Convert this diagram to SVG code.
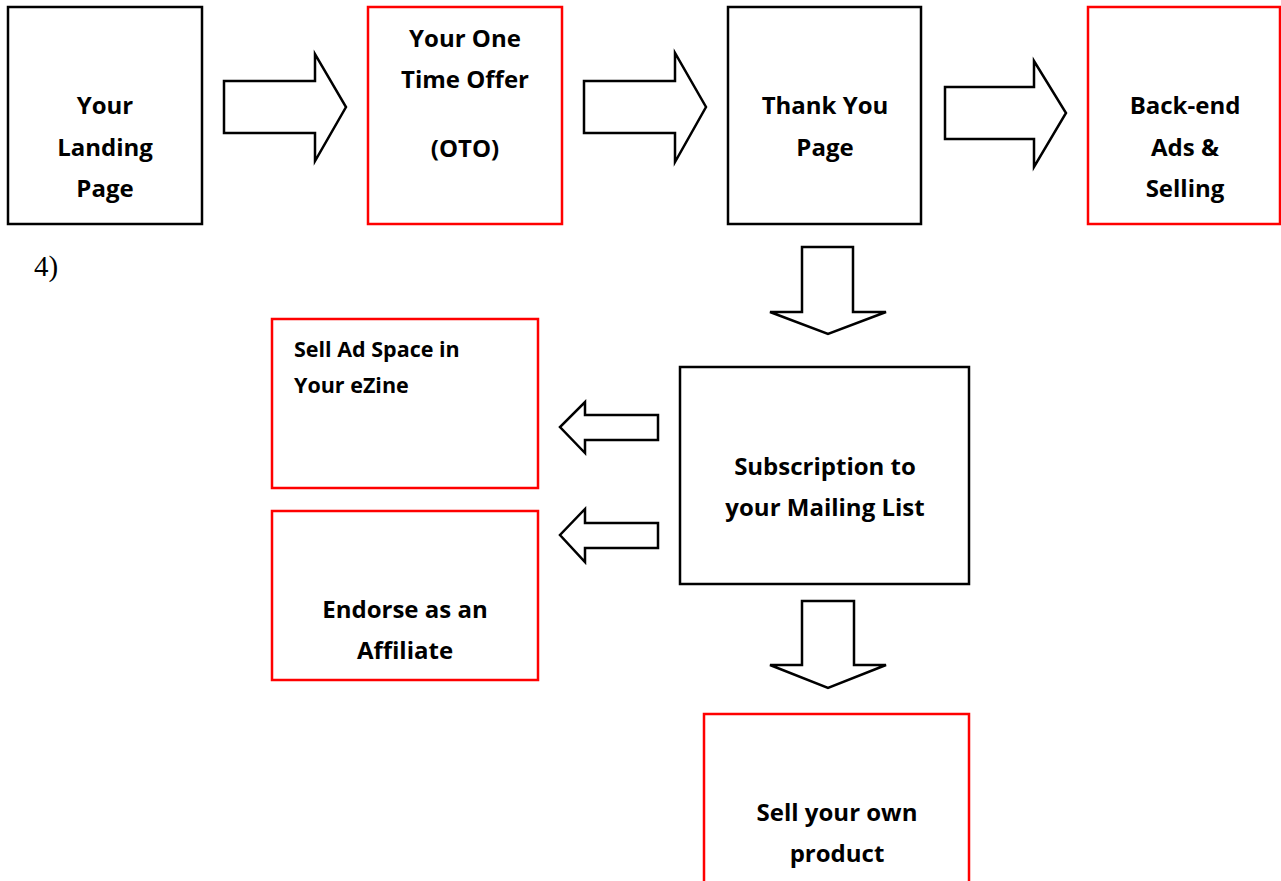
<svg xmlns="http://www.w3.org/2000/svg" width="1281" height="881" viewBox="0 0 1281 881">
<style>
.box{fill:#fff;stroke:#000;stroke-width:2.5}
.red{fill:#fff;stroke:#ff0000;stroke-width:2.5}
.arr{fill:#fff;stroke:#000;stroke-width:2.5;stroke-linejoin:miter}
.t{font-family:"Open Sans","Liberation Sans",sans-serif;font-weight:bold;font-size:24px;fill:#000;text-anchor:middle}
.s{font-size:21.5px;text-anchor:start}
.n{font-family:"Liberation Serif","DejaVu Serif",serif;font-size:29px;fill:#000}
</style>
<rect width="1281" height="881" fill="#fff"/>
<g id="connectors">
<polygon class="arr" points="224,81 315,81 315,54 346,107 315,161 315,133 224,133"/>
<polygon class="arr" points="584,81 675,81 675,53 706,107 675,162 675,133 584,133"/>
<polygon class="arr" points="945,87 1034,87 1034,61 1066,113 1034,167 1034,139 945,139"/>
<polygon class="arr" points="802,247 853,247 853,312 886,312 828,334 770,312 802,312"/>
<polygon class="arr" points="658,415 585,415 585,402 560,427 585,453 585,440 658,440"/>
<polygon class="arr" points="658,523 585,523 585,509 560,535 585,562 585,548 658,548"/>
<polygon class="arr" points="802,601 854,601 854,665 886,665 828,688 770,665 802,665"/>
</g>
<g id="landing">
<rect class="box" x="8" y="7" width="194" height="217"/>
<text class="t" x="105" y="114">Your</text>
<text class="t" x="105" y="156">Landing</text>
<text class="t" x="105" y="197">Page</text>
</g>
<g id="oto">
<rect class="red" x="368" y="7" width="194" height="217"/>
<text class="t" x="465" y="47">Your One</text>
<text class="t" x="465" y="88">Time Offer</text>
<text class="t" x="465" y="157">(OTO)</text>
</g>
<g id="thankyou">
<rect class="box" x="728" y="7" width="193" height="217"/>
<text class="t" x="825" y="114">Thank You</text>
<text class="t" x="825" y="156">Page</text>
</g>
<g id="backend">
<rect class="red" x="1088" y="7" width="192" height="217"/>
<text class="t" x="1185" y="114">Back-end</text>
<text class="t" x="1185" y="156">Ads &amp;</text>
<text class="t" x="1185" y="197">Selling</text>
</g>
<text class="n" x="34" y="276">4)</text>
<g id="subscription">
<rect class="box" x="680" y="367" width="289" height="217"/>
<text class="t" x="825" y="475">Subscription to</text>
<text class="t" x="825" y="516">your Mailing List</text>
</g>
<g id="adspace">
<rect class="red" x="272" y="319" width="266" height="169"/>
<text class="t s" x="294" y="357">Sell Ad Space in</text>
<text class="t s" x="294" y="393">Your eZine</text>
</g>
<g id="affiliate">
<rect class="red" x="272" y="511" width="266" height="169"/>
<text class="t" x="405" y="618">Endorse as an</text>
<text class="t" x="405" y="659">Affiliate</text>
</g>
<g id="ownproduct">
<rect class="red" x="704" y="714" width="265" height="190"/>
<text class="t" x="837" y="821">Sell your own</text>
<text class="t" x="837" y="862">product</text>
</g>
</svg>
